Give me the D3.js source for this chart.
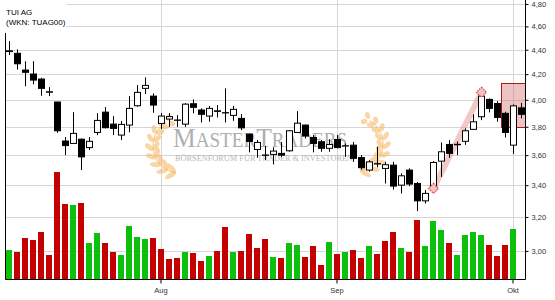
<!DOCTYPE html>
<html>
<head>
<meta charset="utf-8">
<script src="https://cdn.jsdelivr.net/npm/d3@7"></script>
<style>
  html, body { margin: 0; padding: 0; background: #fff; }
  svg { display: block; }
  text { font-family: "Liberation Sans", Arial, sans-serif; }
</style>
</head>
<body>
<svg id="chart" width="555" height="300"></svg>
<script>
// DATA
const title = "TUI AG";
const subtitle = "(WKN: TUAG00)";

const openPx = [4.385,4.370,4.233,4.201,4.161,4.058,3.983,3.698,3.681,3.711,3.652,3.759,3.907,3.819,3.740,3.812,3.955,4.088,4.028,3.824,
  3.856,3.849,3.819,3.970,3.923,3.878,3.917,3.903,3.883,3.861,3.747,3.639,3.601,3.605,3.612,3.630,3.759,3.812,3.723,3.693,
  3.647,3.709,3.663,3.669,3.583,3.499,3.542,3.510,3.532,3.400,3.499,3.411,3.300,3.379,3.559,3.674,3.672,3.696,3.781,3.873,
  4.003,3.972,3.898,3.669,3.939];
const highPx = [4.473,4.403,4.304,4.305,4.171,4.098,3.985,3.726,3.907,3.715,3.726,3.900,3.945,3.878,3.841,4.028,4.114,4.174,4.049,3.900,
  3.900,3.885,3.975,4.003,3.935,3.953,3.960,4.088,3.953,3.893,3.750,3.705,3.663,3.654,3.692,3.776,3.915,3.815,3.740,3.705,
  3.711,3.740,3.681,3.692,3.600,3.566,3.658,3.554,3.554,3.477,3.511,3.421,3.368,3.559,3.688,3.705,3.695,3.788,3.891,4.041,
  4.010,3.990,3.910,3.965,3.977];
const lowPx = [4.356,4.237,4.104,4.120,4.031,4.028,3.756,3.600,3.681,3.499,3.635,3.740,3.788,3.740,3.705,3.760,3.947,4.044,3.902,3.783,
  3.799,3.799,3.799,3.898,3.831,3.836,3.868,3.831,3.843,3.776,3.619,3.582,3.566,3.537,3.588,3.623,3.759,3.716,3.619,3.623,
  3.623,3.647,3.588,3.554,3.502,3.488,3.518,3.411,3.372,3.347,3.394,3.236,3.283,3.379,3.454,3.582,3.600,3.671,3.781,3.848,
  3.905,3.836,3.723,3.607,3.861];
const closePx = [4.391,4.284,4.215,4.153,4.088,4.062,3.771,3.666,3.752,3.588,3.696,3.846,3.793,3.788,3.817,3.935,4.057,4.111,3.960,3.878,
  3.874,3.847,3.967,3.943,3.891,3.935,3.913,3.901,3.928,3.792,3.695,3.688,3.599,3.628,3.600,3.771,3.826,3.733,3.681,3.647,
  3.674,3.652,3.665,3.578,3.515,3.554,3.540,3.535,3.394,3.461,3.407,3.300,3.347,3.550,3.623,3.612,3.675,3.771,3.836,4.028,
  3.935,3.868,3.759,3.954,3.891];
// volume in thousand shares, the last day has no volume yet
const volume = [590,550,830,790,950,490,2150,1510,1490,1530,730,930,730,550,490,1070,850,810,830,610,
  410,430,550,530,370,470,570,1050,550,570,910,630,810,450,430,730,690,450,670,290,
  750,510,550,590,430,670,510,770,950,630,550,1190,670,1170,990,730,490,890,950,890,
  690,470,690,1010,null];

const priceTicks = [3.0, 3.2, 3.4, 3.6, 3.8, 4.0, 4.2, 4.4, 4.6, 4.8];
const monthTickIdx = [19, 41, 63];
const monthLabels = ["Aug", "Sep", "Okt"];

// drawn annotations: trend line between two diamonds and a target zone
const trendIdx = [53, 59];
const trendPrice = [3.379, 4.058];
const zoneStartIdx = 62;
const zonePrice = [3.80, 4.13];

// SETUP
const W = 555, H = 300;
const plotLeft = 5, plotRight = 525, plotTop = 0, plotBottom = 279.5;

const svg = d3.select("#chart");
svg.append("rect").attr("width", W).attr("height", H).attr("fill", "#fff");

const x = d3.scaleBand()
    .domain(d3.range(openPx.length))
    .range([plotLeft, plotRight]);
const cx = i => x(i) + x.bandwidth() / 2;

const y = d3.scaleLog()
    .domain([2.841, 4.837])
    .range([plotBottom, plotTop]);

const vScale = d3.scaleLinear()
    .domain([0, d3.max(volume)])
    .range([0, 107.5]);

const fmt = d3.formatLocale({decimal: ",", thousands: ".", grouping: [3], currency: ["", "€"]}).format(".2f");

// GRID
const grid = svg.append("g");
priceTicks.forEach(v => {
    const yy = Math.round(y(v)) + 0.5;
    grid.append("line")
        .attr("x1", plotLeft).attr("x2", plotRight)
        .attr("y1", yy).attr("y2", yy)
        .attr("stroke", "#d6d6d6");
});
monthTickIdx.forEach(i => {
    grid.append("line")
        .attr("x1", cx(i) + 0.5).attr("x2", cx(i) + 0.5)
        .attr("y1", plotTop).attr("y2", plotBottom)
        .attr("stroke", "#d6d6d6");
});

// WATERMARK (logo of the chart provider)
function laurel(g, ccx, ccy, r, a0, a1) {
    const n = 9;
    const sgn = a1 > a0 ? 1 : -1;
    const p = d3.path();
    p.arc(ccx, ccy, r, a0 * Math.PI / 180, a1 * Math.PI / 180, a1 < a0);
    g.append("path").attr("d", p.toString())
        .attr("fill", "none").attr("stroke", "#f5bd70").attr("stroke-width", 1.3).attr("opacity", 0.7);
    for (let k = 0; k < n; k++) {
        const a = a0 + (a1 - a0) * k / (n - 1);
        const t = a * Math.PI / 180;
        const px = ccx + r * Math.cos(t), py = ccy + r * Math.sin(t);
        const dir = a + sgn * 90;
        [-40, 40].forEach(off => {
            g.append("ellipse")
                .attr("rx", 6.2 - k * 0.35).attr("ry", 2.5)
                .attr("transform", `translate(${px},${py}) rotate(${dir + off}) translate(5.5,0)`)
                .attr("fill", "#f7bd6e").attr("opacity", 0.62);
        });
    }
}
const wm = svg.append("g");
laurel(wm, 180, 146, 27, 100, 240);
laurel(wm, 356, 144, 27, 80, -60);

// big caps for M and T, smaller caps for the rest; squeezed to the logo width
const logo = wm.append("g").attr("transform", "translate(173,147) scale(0.91,1)");
logo.append("text")
    .style("font-family", "'Liberation Serif', 'DejaVu Serif', serif")
    .attr("fill", "#9c9c9c").attr("opacity", 0.8)
    .call(t => {
        t.append("tspan").attr("font-size", 28).text("M");
        t.append("tspan").attr("font-size", 21).text("ASTER");
        t.append("tspan").attr("font-size", 28).text("T");
        t.append("tspan").attr("font-size", 21).text("RADERS");
    });
wm.append("text")
    .attr("x", 175).attr("y", 160.5)
    .attr("textLength", 178).attr("lengthAdjust", "spacingAndGlyphs")
    .style("font-family", "'Liberation Serif', 'DejaVu Serif', serif")
    .attr("font-size", 7.2)
    .attr("fill", "#a8a8a8").attr("opacity", 0.8)
    .text("BÖRSENFORUM FÜR TRADER & INVESTOREN");

// VOLUME
svg.append("g").selectAll("rect")
    .data(volume.map((v, i) => ({v, i})).filter(d => d.v != null))
    .join("rect")
    .attr("x", d => cx(d.i) - 3)
    .attr("width", 6)
    .attr("y", d => plotBottom - vScale(d.v))
    .attr("height", d => vScale(d.v))
    .attr("fill", d => {
        const up = d.i === 0 ? closePx[0] >= openPx[0] : closePx[d.i] >= closePx[d.i - 1];
        return up ? "#0cc00c" : "#c40000";
    });

// TARGET ZONE
svg.append("rect")
    .attr("x", x(zoneStartIdx) + 0.5)
    .attr("y", Math.round(y(zonePrice[1])) + 0.5)
    .attr("width", plotRight - x(zoneStartIdx))
    .attr("height", Math.round(y(zonePrice[0])) - Math.round(y(zonePrice[1])))
    .attr("fill", "#d46a6a").attr("fill-opacity", 0.4)
    .attr("stroke", "#b01818").attr("stroke-width", 1);

// TREND BAND
svg.append("line")
    .attr("x1", cx(trendIdx[0]) + 0.5).attr("y1", y(trendPrice[0]))
    .attr("x2", cx(trendIdx[1]) + 0.5).attr("y2", y(trendPrice[1]))
    .attr("stroke", "#e89c9c").attr("stroke-opacity", 0.55).attr("stroke-width", 6);

// CANDLES
const candles = svg.append("g").selectAll("g")
    .data(d3.range(openPx.length))
    .join("g");

candles.append("line")
    .attr("x1", i => cx(i) + 0.5).attr("x2", i => cx(i) + 0.5)
    .attr("y1", i => y(highPx[i])).attr("y2", i => y(lowPx[i]))
    .attr("stroke", "#000");

candles.append("rect")
    .attr("x", i => cx(i) - 2.5)
    .attr("width", 6)
    .attr("y", i => y(Math.max(openPx[i], closePx[i])))
    .attr("height", i => Math.max(0.01, Math.abs(y(openPx[i]) - y(closePx[i]))))
    .attr("fill", i => closePx[i] > openPx[i] ? "#fff" : "#000")
    .attr("stroke", "#000");

// DIAMONDS at the ends of the trend band
svg.append("g").selectAll("path")
    .data([0, 1])
    .join("path")
    .attr("d", "M0,-5L5,0L0,5L-5,0Z")
    .attr("transform", k => `translate(${cx(trendIdx[k]) + 0.5},${y(trendPrice[k])})`)
    .attr("fill", "#f3c2c2")
    .attr("stroke", "#d84c4c").attr("stroke-width", 1.2).attr("stroke-dasharray", "1.5,1");

// AXES
const yAxis = d3.axisRight(y)
    .tickValues(priceTicks)
    .tickFormat(fmt)
    .tickSize(3)
    .tickSizeOuter(0)
    .tickPadding(3);
const yAxisG = svg.append("g")
    .attr("transform", `translate(${plotRight + 0.5},0)`)
    .call(yAxis);
yAxisG.select(".domain").remove();
yAxisG.selectAll("text").attr("font-size", 7.5).attr("fill", "#333").attr("font-family", null);

const xAxis = d3.axisBottom(x)
    .tickValues(monthTickIdx)
    .tickFormat((d, k) => monthLabels[k])
    .tickSize(4)
    .tickSizeOuter(0)
    .tickPadding(4);
const xAxisG = svg.append("g")
    .attr("transform", `translate(0,${plotBottom})`)
    .call(xAxis);
xAxisG.select(".domain").remove();
xAxisG.selectAll("text").attr("font-size", 7.5).attr("fill", "#333").attr("font-family", null);

// frame lines: left, right, bottom
svg.append("path")
    .attr("d", `M${plotLeft + 0.5},${plotTop}V${plotBottom}H${plotRight + 0.5}V${plotTop}`)
    .attr("fill", "none").attr("stroke", "#000");

// TITLE
svg.append("rect").attr("x", 0).attr("y", 0).attr("width", 66).attr("height", 33).attr("fill", "#fff");
svg.append("text").attr("x", 6).attr("y", 15).attr("font-size", 8).attr("fill", "#000").text(title);
svg.append("text").attr("x", 6).attr("y", 24.5).attr("font-size", 8).attr("fill", "#000").text(subtitle);
</script>
</body>
</html>
